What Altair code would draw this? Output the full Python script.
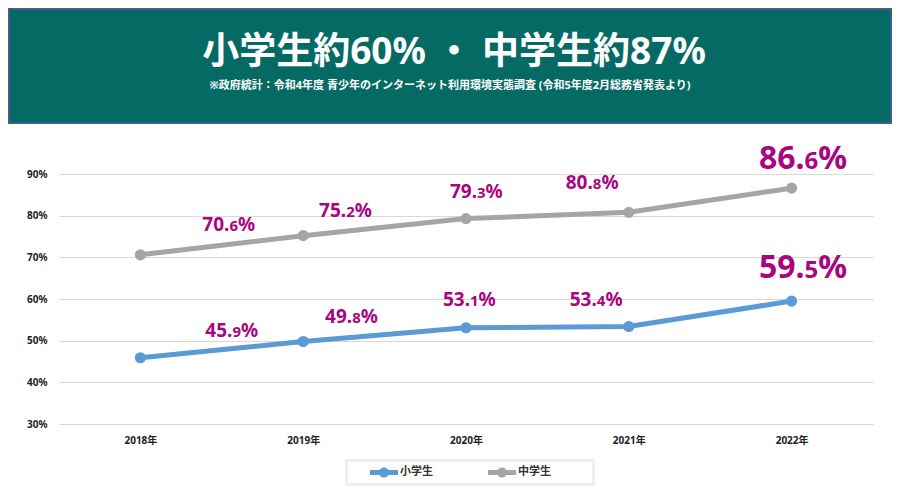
import altair as alt
import pandas as pd

years = ["2018年", "2019年", "2020年", "2021年", "2022年"]
elementary = [45.9, 49.8, 53.1, 53.4, 59.5]
junior = [70.6, 75.2, 79.3, 80.8, 86.6]
series_names = ["小学生", "中学生"]
y_ticks = [30, 40, 50, 60, 70, 80, 90]
title_text = "小学生約60% ・ 中学生約87%"
subtitle_text = "※政府統計：令和4年度 青少年のインターネット利用環境実態調査 (令和5年度2月総務省発表より)"

rows = []
for i, yr in enumerate(years):
    rows.append({"year": yr, "series": series_names[0], "value": elementary[i], "idx": i})
    rows.append({"year": yr, "series": series_names[1], "value": junior[i], "idx": i})
df = pd.DataFrame(rows)
df["head"] = df["value"].map(lambda v: f"{int(v)}.")
df["dec"] = df["value"].map(lambda v: f"{int(round(v * 10)) % 10}")
df["pct"] = "%"

FONT = "Noto Sans, Noto Sans CJK JP"
CJK = "Noto Sans CJK JP"
LABEL_COLOR = "#a8057f"
COLORS = ["#5b9bd5", "#a5a5a5"]

x_enc = alt.X("year:N", title=None,
              scale=alt.Scale(type="point", padding=0.5),
              axis=alt.Axis(labelFont=FONT, labelFontSize=10, labelFontWeight="bold",
                            labelColor="#222222", labelPadding=11, domain=False,
                            ticks=False, grid=False, labelAngle=0))
y_enc = alt.Y("value:Q", title=None,
              scale=alt.Scale(domain=[30, 102], nice=False, zero=False),
              axis=alt.Axis(values=y_ticks, labelExpr="datum.value + '%'",
                            labelFont=FONT, labelFontSize=10, labelFontWeight="bold",
                            labelColor="#222222", labelPadding=12, domain=False,
                            ticks=False, grid=True, gridColor="#d9d9d9", gridWidth=1,
                            minExtent=51, maxExtent=51))

sym_path = ("M-1,-0.18 L1,-0.18 L1,0.18 L-1,0.18 Z "
            "M0.36,0 A0.36,0.36 0 1 1 -0.36,0 A0.36,0.36 0 1 1 0.36,0 Z")
legend = alt.Legend(orient="none", legendX=311, legendY=334, direction="horizontal",
                    title=None, symbolType=sym_path, symbolSize=784, symbolStrokeWidth=0,
                    labelFont=CJK, labelFontSize=11, labelFontWeight="bold",
                    labelColor="#333333", columnPadding=55, labelOffset=2, columns=2)
color_enc = alt.Color("series:N", scale=alt.Scale(domain=series_names, range=COLORS),
                      legend=legend, sort=series_names)

base = alt.Chart(df)
points = base.mark_point(filled=True, size=125, opacity=1).encode(x=x_enc, y=y_enc, color=color_enc)
lines = base.mark_line(strokeWidth=5).encode(x=x_enc, y=y_enc, color=color_enc)

# label anchor offsets (style): (dx, dy baseline) per series / index
offsets = {
    ("中学生", 0): (89, -23.5), ("中学生", 1): (43, -18.5), ("中学生", 2): (11, -20.5),
    ("中学生", 3): (-36, -23.5), ("中学生", 4): (13, -19.5),
    ("小学生", 0): (92, -20.5), ("小学生", 1): (49, -18.5), ("小学生", 2): (4, -21.5),
    ("小学生", 3): (-32, -20.5), ("小学生", 4): (13, -23.5),
}
label_layers = []
for (s, i), (dx, dy) in offsets.items():
    big = i == 4
    fs_main = 32 if big else 19
    fs_dec = 24 if big else 15
    w_dec = 13.7 if big else 8.6
    sub = base.transform_filter((alt.datum.series == s) & (alt.datum.idx == i))
    common = dict(font=FONT, fontWeight="bold", color=LABEL_COLOR, baseline="alphabetic", dy=dy)
    label_layers.append(sub.mark_text(align="right", dx=dx, fontSize=fs_main, **common)
                        .encode(x=x_enc, y=y_enc, text="head:N"))
    label_layers.append(sub.mark_text(align="left", dx=dx, fontSize=fs_dec, **common)
                        .encode(x=x_enc, y=y_enc, text="dec:N"))
    label_layers.append(sub.mark_text(align="left", dx=dx + w_dec, fontSize=fs_main, **common)
                        .encode(x=x_enc, y=y_enc, text="pct:N"))

one = pd.DataFrame({"k": [0]})
legend_box = alt.Chart(one).mark_rect(fillOpacity=0, stroke="#efefef", strokeWidth=3).encode(
    x=alt.value(287.5), x2=alt.value(534.5), y=alt.value(336.5), y2=alt.value(360.5))

# header band drawn above the plot area
hdr_rect = alt.Chart(one).mark_rect(fill="#066a64", stroke="#3e5f8e", strokeWidth=2).encode(
    x=alt.value(-50), x2=alt.value(832), y=alt.value(-115), y2=alt.value(-1))
hdr_title = alt.Chart(one).mark_text(font=FONT, fontWeight="bold", fontSize=37, color="white",
                                      align="center", baseline="middle").encode(
    x=alt.value(395), y=alt.value(-71), text=alt.value(title_text))
hdr_sub = alt.Chart(one).mark_text(font=FONT, fontWeight="bold", fontSize=11, color="white",
                                    align="center", baseline="middle").encode(
    x=alt.value(391), y=alt.value(-38), text=alt.value(subtitle_text))

chart = alt.layer(hdr_rect, hdr_title, hdr_sub, legend_box, points, lines, *label_layers).properties(
    width=814, height=300, padding=0, background="white").configure_view(stroke=None)

chart.save("out.html", embed_options={"renderer": "svg", "actions": False})
